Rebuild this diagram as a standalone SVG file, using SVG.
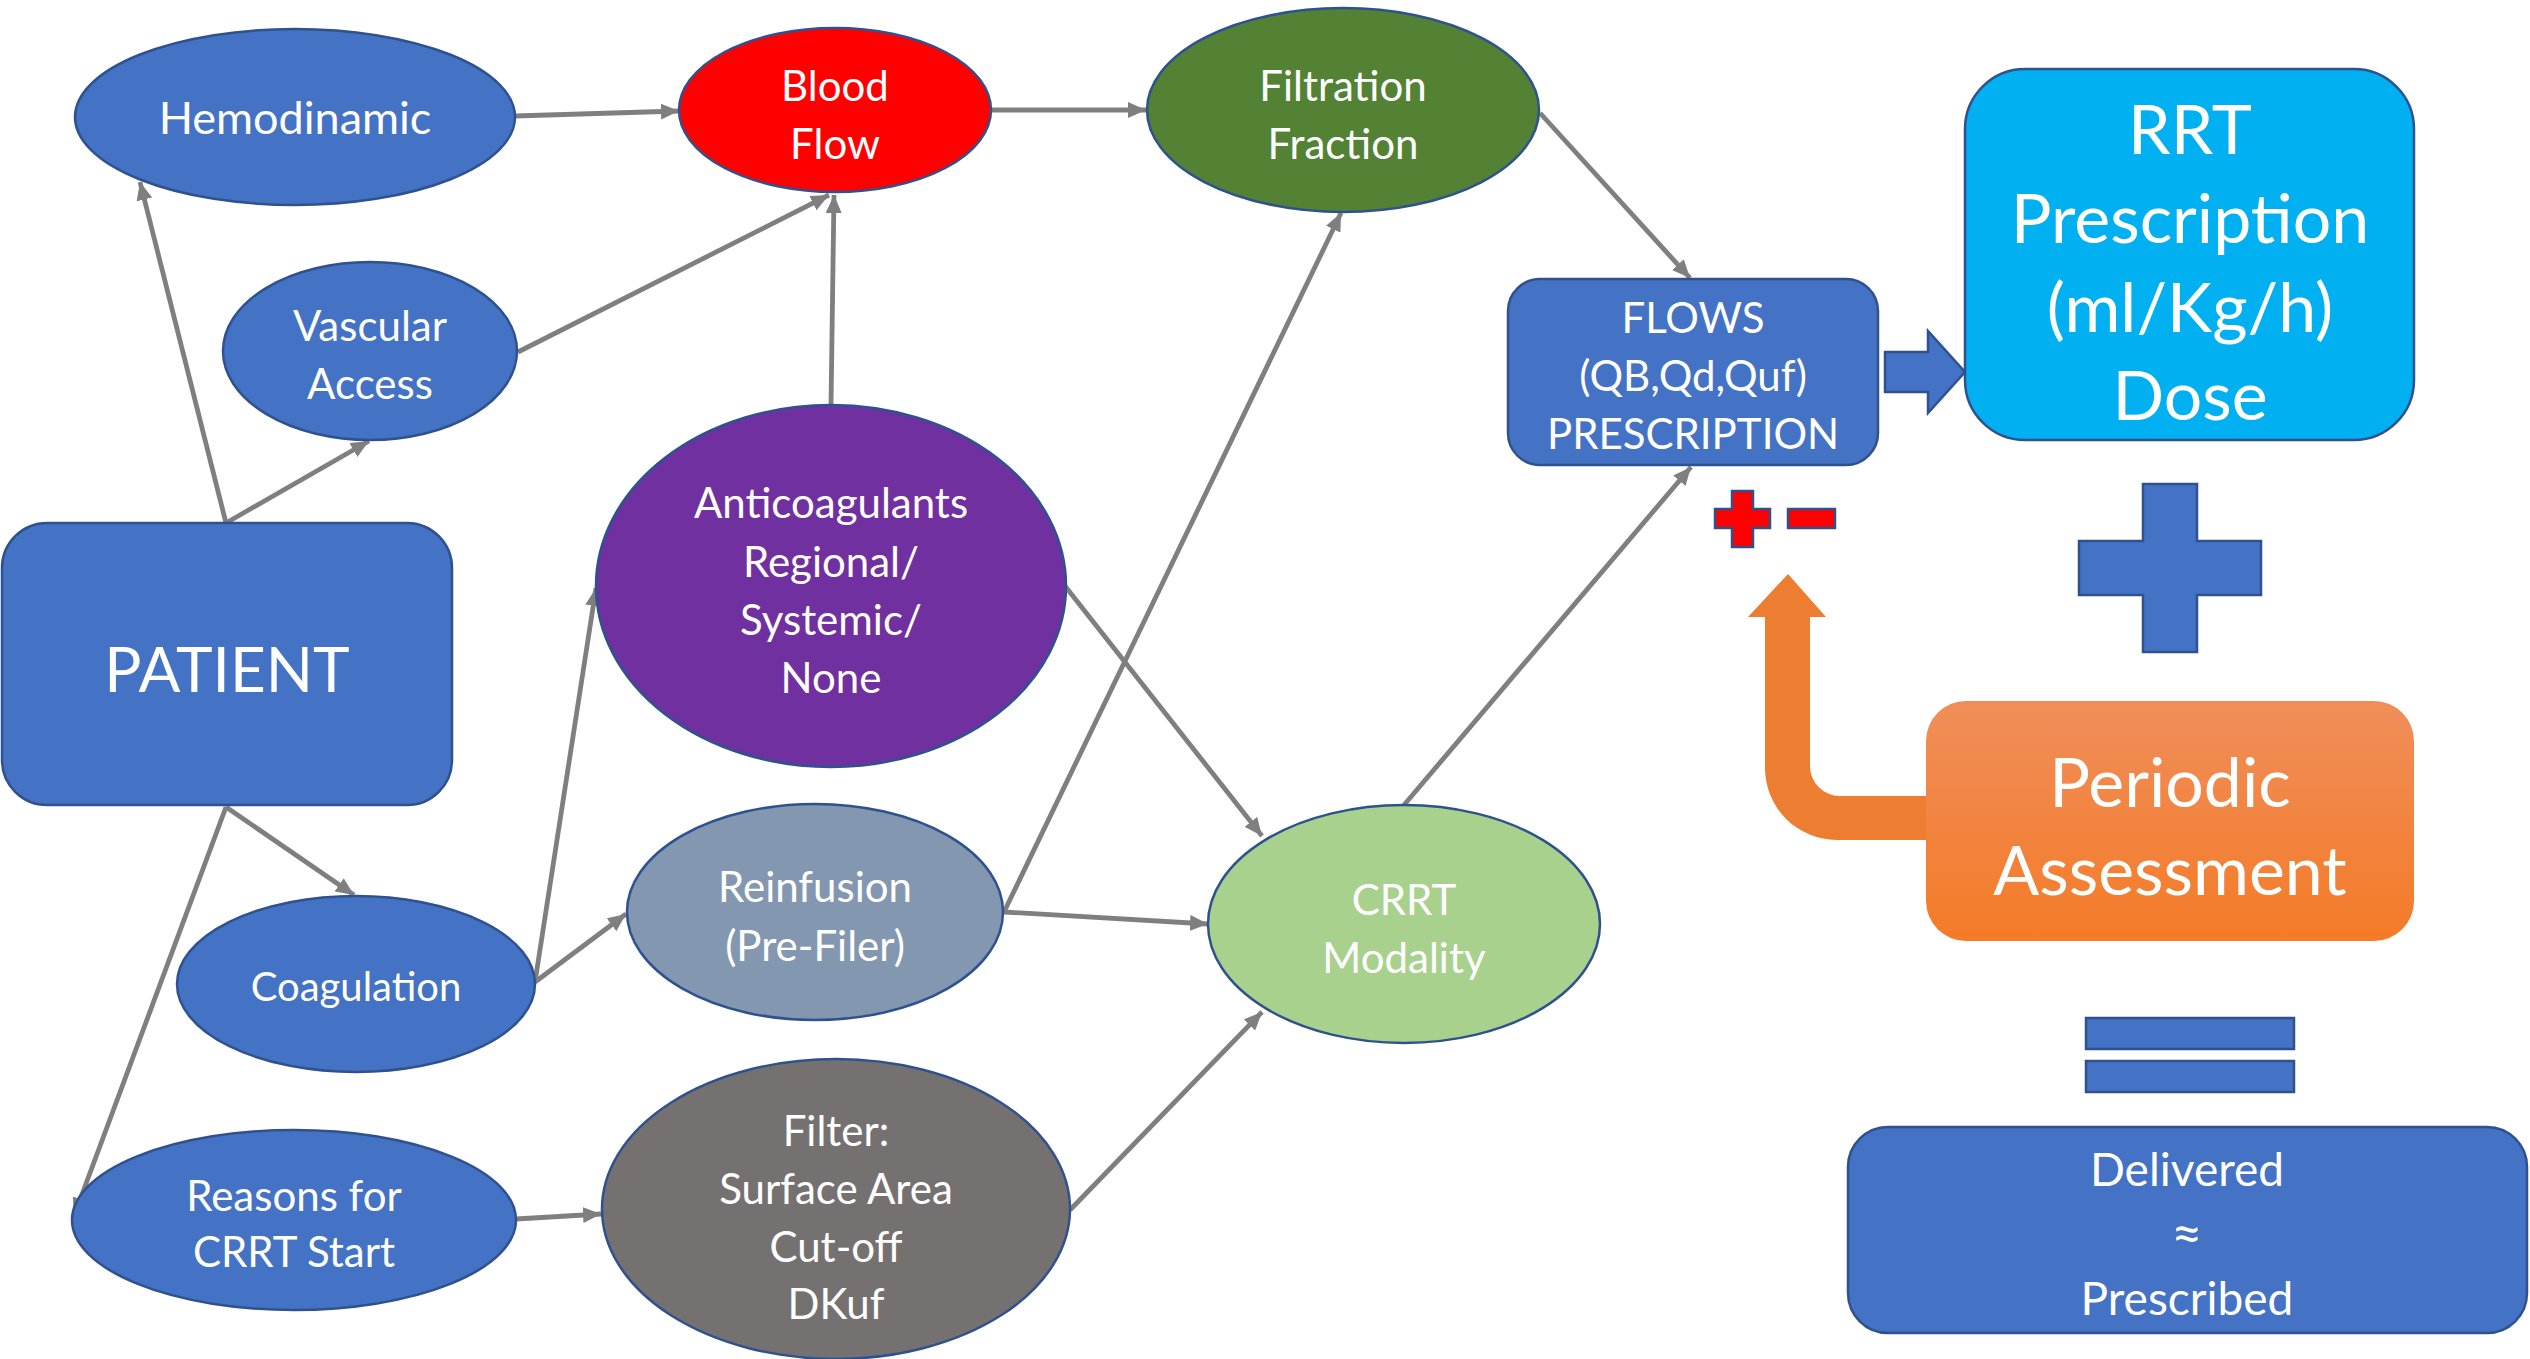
<svg xmlns="http://www.w3.org/2000/svg" width="2530" height="1359" viewBox="0 0 2530 1359">
<style>
.n{stroke:#2F528F;stroke-width:2.5}
.t{font-family:Lato,"Open Sans","Liberation Sans",sans-serif;fill:#FFFFFF;text-anchor:middle}
.m{font-size:42px}
.c{stroke:#7F7F7F;stroke-width:4.8;fill:none;marker-end:url(#ah)}
</style>
<defs>
<marker id="ah" markerUnits="userSpaceOnUse" markerWidth="20" markerHeight="16" refX="18" refY="8" orient="auto">
<path d="M0,0 L18,8 L0,16 z" fill="#7F7F7F"/>
</marker>
<linearGradient id="og" x1="0" y1="0" x2="0" y2="1">
<stop offset="0" stop-color="#F08E5A"/>
<stop offset="1" stop-color="#F47B27"/>
</linearGradient>
</defs>
<rect width="2530" height="1359" fill="#FFFFFF"/>
<g id="connectors">
<line class="c" x1="515" y1="116" x2="679" y2="111"/>
<line class="c" x1="518" y1="352" x2="829" y2="195"/>
<line class="c" x1="831" y1="405" x2="834" y2="195"/>
<line class="c" x1="226" y1="523" x2="140" y2="182"/>
<line class="c" x1="226" y1="523" x2="369" y2="441"/>
<line class="c" x1="226" y1="807" x2="354" y2="895"/>
<line class="c" x1="226" y1="807" x2="74" y2="1216"/>
<line class="c" x1="535" y1="982" x2="596" y2="588"/>
<line class="c" x1="535" y1="982" x2="626" y2="914"/>
<line class="c" x1="516" y1="1219" x2="601" y2="1214"/>
<line class="c" x1="991" y1="110" x2="1146" y2="110"/>
<line class="c" x1="1004" y1="912" x2="1341" y2="213"/>
<line class="c" x1="1004" y1="912" x2="1208" y2="924"/>
<line class="c" x1="1065" y1="586" x2="1262" y2="836"/>
<line class="c" x1="1070" y1="1210" x2="1262" y2="1012"/>
<line class="c" x1="1404" y1="805" x2="1691" y2="467"/>
<line class="c" x1="1540" y1="113" x2="1690" y2="278"/>
</g>
<g id="hemodinamic">
<ellipse class="n" cx="295" cy="117" rx="220" ry="88" fill="#4472C4"/>
<text class="t" x="295" y="134" font-size="45">Hemodinamic</text>
</g>
<g id="blood-flow">
<ellipse class="n" cx="835" cy="110" rx="156" ry="82" fill="#FF0000"/>
<text class="t m" x="835" y="101">Blood</text>
<text class="t m" x="835" y="159">Flow</text>
</g>
<g id="filtration-fraction">
<ellipse class="n" cx="1343" cy="110" rx="196" ry="102" fill="#548235"/>
<text class="t m" x="1343" y="101">Filtration</text>
<text class="t m" x="1343" y="159">Fraction</text>
</g>
<g id="vascular-access">
<ellipse class="n" cx="370" cy="351" rx="147" ry="89" fill="#4472C4"/>
<text class="t m" x="370" y="341">Vascular</text>
<text class="t m" x="370" y="399">Access</text>
</g>
<g id="anticoagulants">
<ellipse class="n" cx="831" cy="586" rx="235" ry="181" fill="#7030A0"/>
<text class="t m" x="831" y="518">Anticoagulants</text>
<text class="t m" x="831" y="577">Regional/</text>
<text class="t m" x="831" y="635">Systemic/</text>
<text class="t m" x="831" y="693">None</text>
</g>
<g id="patient">
<rect class="n" x="2" y="523" width="450" height="282" rx="45" fill="#4472C4"/>
<text class="t" x="227" y="692" font-size="62">PATIENT</text>
</g>
<g id="coagulation">
<ellipse class="n" cx="356" cy="984" rx="179" ry="88" fill="#4472C4"/>
<text class="t" x="356" y="1001" font-size="40">Coagulation</text>
</g>
<g id="reinfusion">
<ellipse class="n" cx="815" cy="912" rx="188" ry="108" fill="#8497B0"/>
<text class="t m" x="815" y="902">Reinfusion</text>
<text class="t m" x="815" y="961">(Pre-Filer)</text>
</g>
<g id="crrt-modality">
<ellipse class="n" cx="1404" cy="924" rx="196" ry="119" fill="#A9D18E"/>
<text class="t m" x="1404" y="915">CRRT</text>
<text class="t m" x="1404" y="973">Modality</text>
</g>
<g id="reasons">
<ellipse class="n" cx="294" cy="1220" rx="222" ry="90" fill="#4472C4"/>
<text class="t m" x="294" y="1211">Reasons for</text>
<text class="t m" x="294" y="1267">CRRT Start</text>
</g>
<g id="filter">
<ellipse class="n" cx="836" cy="1209" rx="234" ry="150" fill="#767171"/>
<text class="t m" x="836" y="1146">Filter:</text>
<text class="t m" x="836" y="1204">Surface Area</text>
<text class="t m" x="836" y="1262">Cut-off</text>
<text class="t m" x="836" y="1319">DKuf</text>
</g>
<g id="flows">
<rect class="n" x="1508" y="279" width="370" height="186" rx="32" fill="#4472C4"/>
<text class="t m" x="1693" y="333">FLOWS</text>
<text class="t m" x="1693" y="391">(QB,Qd,Quf)</text>
<text class="t m" x="1693" y="449">PRESCRIPTION</text>
</g>
<g id="block-arrow">
<polygon class="n" points="1885,352 1928,352 1928,331 1965,372 1928,413 1928,392 1885,392" fill="#4472C4"/>
</g>
<g id="rrt-prescription">
<rect class="n" x="1965" y="69" width="449" height="371" rx="60" fill="#00B0F0"/>
<text class="t" x="2190" y="154" font-size="68">RRT</text>
<text class="t" x="2190" y="243" font-size="68">Prescription</text>
<text class="t" x="2190" y="332" font-size="68">(ml/Kg/h)</text>
<text class="t" x="2190" y="420" font-size="68">Dose</text>
</g>
<g id="plus-minus">
<polygon class="n" stroke-width="1.5" points="1732,491 1753,491 1753,509 1770,509 1770,528 1753,528 1753,547 1732,547 1732,528 1715,528 1715,509 1732,509" fill="#FF0000"/>
<rect class="n" stroke-width="1.5" x="1788" y="509" width="47" height="19" fill="#FF0000"/>
</g>
<g id="blue-plus">
<polygon class="n" points="2143,484 2197,484 2197,541 2261,541 2261,595 2197,595 2197,652 2143,652 2143,595 2079,595 2079,541 2143,541" fill="#4472C4"/>
</g>
<g id="orange-arrow">
<path d="M1788,574 L1826,617 L1810,617 L1810,766 A30,30 0 0 0 1840,796 L1930,796 L1930,840 L1837,840 A72,72 0 0 1 1765,768 L1765,617 L1748,617 Z" fill="#ED7D31"/>
</g>
<g id="periodic-assessment">
<rect x="1926" y="701" width="488" height="240" rx="40" fill="url(#og)"/>
<text class="t" x="2170" y="807" font-size="68">Periodic</text>
<text class="t" x="2170" y="895" font-size="68">Assessment</text>
</g>
<g id="equals">
<rect class="n" x="2086" y="1018" width="208" height="31" fill="#4472C4"/>
<rect class="n" x="2086" y="1061" width="208" height="31" fill="#4472C4"/>
</g>
<g id="delivered">
<rect class="n" x="1848" y="1127" width="679" height="206" rx="40" fill="#4472C4"/>
<text class="t" x="2187" y="1186" font-size="46">Delivered</text>
<text class="t" x="2187" y="1252" font-size="54">≈</text>
<text class="t" x="2187" y="1315" font-size="46">Prescribed</text>
</g>
</svg>
